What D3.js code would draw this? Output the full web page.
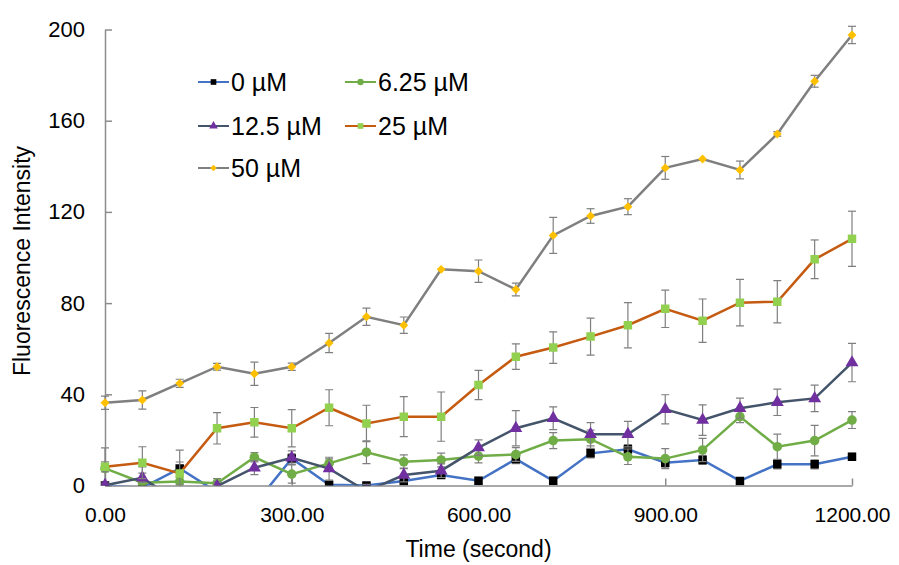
<!DOCTYPE html>
<html>
<head>
<meta charset="utf-8">
<script src="https://cdn.jsdelivr.net/npm/d3@7"></script>
<style>
  body { margin: 0; background: #fff; }
  svg text { font-family: "Liberation Sans", Arial, Helvetica, sans-serif; fill: #000; }
</style>
</head>
<body>
<svg id="chart" width="899" height="565"></svg>
<script>
// time points (seconds)
const times = [0, 60, 120, 180, 240, 300, 360, 420, 480, 540, 600, 660, 720, 780, 840, 900, 960, 1020, 1080, 1140, 1200]

// mean fluorescence per concentration
const v0 = [0, -1, 7.5, -2.9, -8.5, 11.9, 0.3, 0, 2.0, 4.6, 2.1, 11.6, 2.1, 14.1, 15.9, 10.0, 11.2, 2.0, 9.3, 9.3, 12.6]
const v625 = [7.5, 1.2, 1.7, 1.0, 12.4, 5.0, 9.7, 14.6, 10.4, 11.2, 12.9, 13.6, 19.7, 20.3, 12.6, 11.8, 15.6, 30.2, 17.0, 19.7, 28.7]
const v125 = [0.1, 3.4, -7.6, -0.3, 7.8, 12.2, 7.4, -2.5, 4.6, 6.5, 16.6, 25.1, 29.5, 22.5, 22.5, 33.4, 28.7, 33.9, 36.5, 38.2, 53.9]
const v25 = [8.2, 10.0, 5.3, 25.1, 27.7, 25.1, 34.1, 27.2, 30.2, 30.2, 44.1, 56.5, 60.5, 65.3, 70.3, 77.5, 72.3, 80.2, 80.6, 99.2, 108.2]
const v50 = [36.3, 37.5, 44.8, 52.1, 49.0, 52.1, 62.5, 74.0, 70.3, 94.8, 94.0, 86.0, 109.7, 118.2, 122.3, 139.3, 143.2, 138.4, 154.2, 177.3, 197.6]

// error bar half widths
const e0 = [1, 1, 8, 2, 2, 2, 1, 1, 1.5, 1.5, 1.5, 2, 1.5, 2, 2, 2, 2, 1.5, 2, 2, 1.5]
const e625 = [9, 7, 2, 2, 2, 4, 2, 5, 3, 3, 3, 3, 3.5, 4, 3.4, 4.4, 5.1, 2.6, 5.5, 6.7, 3.7]
const e125 = [1, 2, 2, 2, 3, 3, 5, 3, 3, 3, 3.4, 7.7, 5.0, 5.1, 5.6, 6.4, 6.7, 4.4, 5.8, 5.8, 8.4]
const e25 = [2.2, 7.0, 5, 6.9, 6.5, 8.2, 7.9, 8, 8.8, 10.8, 6.4, 5.6, 6.9, 8.1, 9.9, 8.2, 9.5, 10.2, 9.3, 8.5, 12.1]
const e50 = [2.9, 4.0, 1.8, 1.5, 5.1, 1.6, 4.2, 3.8, 3.6, 0.5, 4.9, 2.8, 7.9, 3.2, 3.5, 5.0, 0.5, 3.9, 1, 2.6, 3.8]

const seriesNames = ['0 µM', '6.25 µM', '12.5 µM', '25 µM', '50 µM']
const lineColors = ['#4472C4', '#70AD47', '#44546A', '#C55A11', '#7F7F7F']
const markerColors = ['#000000', '#70AD47', '#7030A0', '#92D050', '#FFC000']
const markerShapes = ['square', 'circle', 'triangle', 'square', 'diamond']

const xTicks = [0, 300, 600, 900, 1200]
const yTicks = [0, 40, 80, 120, 160, 200]

const means = [v0, v625, v125, v25, v50]
const errs = [e0, e625, e125, e25, e50]

const series = seriesNames.map((name, i) => ({
  name,
  line: lineColors[i],
  marker: markerColors[i],
  shape: markerShapes[i],
  values: times.map((t, j) => ({ t, v: means[i][j], e: errs[i][j] }))
}))

// diamond = square turned 45 degrees
function markerPath(shape, size) {
  const type = { square: d3.symbolSquare, circle: d3.symbolCircle, triangle: d3.symbolTriangle, diamond: d3.symbolSquare }[shape]
  return d3.symbol().type(type).size(size)()
}
const rot = shape => shape === 'diamond' ? ' rotate(45)' : ''

const svg = d3.select('#chart')

const x = d3.scaleLinear().domain([0, 1200]).range([105, 852])
const y = d3.scaleLinear().domain([0, 200]).range([485.5, 29.5])

svg.append('defs').append('clipPath')
  .attr('id', 'plot')
  .append('rect')
  .attr('x', 95).attr('y', 0)
  .attr('width', 800).attr('height', y(0))

// axes
const xAxis = svg.append('g')
  .attr('transform', `translate(0,${y(0)})`)
  .call(d3.axisBottom(x).tickValues(xTicks).tickSizeInner(-7).tickSizeOuter(0).tickFormat(d3.format('.2f')))
const yAxis = svg.append('g')
  .attr('transform', `translate(${x(0)},0)`)
  .call(d3.axisLeft(y).tickValues(yTicks).tickSizeInner(-7).tickSizeOuter(0).tickFormat(d3.format('d')))

xAxis.selectAll('path, line').attr('stroke', '#8C8C8C').attr('stroke-width', 1.5)
yAxis.selectAll('path, line').attr('stroke', '#8C8C8C').attr('stroke-width', 1.5)
xAxis.selectAll('text').attr('y', 22).attr('dy', '0.71em').style('font-size', '21px')
yAxis.selectAll('text').attr('x', -20).style('font-size', '22px')

svg.append('text')
  .attr('x', (x(0) + x(1200)) / 2).attr('y', 557)
  .attr('text-anchor', 'middle')
  .style('font-size', '23px')
  .text('Time (second)')

svg.append('text')
  .attr('transform', `translate(30,${261}) rotate(-90)`)
  .attr('text-anchor', 'middle')
  .style('font-size', '23px')
  .text('Fluorescence Intensity')

const plot = svg.append('g').attr('clip-path', 'url(#plot)')

const line = d3.line().x(d => x(d.t)).y(d => y(d.v))

series.forEach(s => {
  const g = plot.append('g')

  const bars = g.append('g').attr('stroke', '#7F7F7F').attr('stroke-width', 1.2)
  s.values.forEach(d => {
    if (d.e < 0.8) return
    const cx = x(d.t)
    bars.append('line').attr('x1', cx).attr('x2', cx).attr('y1', y(d.v - d.e)).attr('y2', y(d.v + d.e))
    bars.append('line').attr('x1', cx - 4).attr('x2', cx + 4).attr('y1', y(d.v - d.e)).attr('y2', y(d.v - d.e))
    bars.append('line').attr('x1', cx - 4).attr('x2', cx + 4).attr('y1', y(d.v + d.e)).attr('y2', y(d.v + d.e))
  })

  g.append('path')
    .datum(s.values)
    .attr('fill', 'none')
    .attr('stroke', s.line)
    .attr('stroke-width', 2.5)
    .attr('d', line)

  g.selectAll('.mark')
    .data(s.values)
    .enter().append('path')
    .attr('transform', d => `translate(${x(d.t)},${y(d.v)})` + rot(s.shape))
    .attr('d', markerPath(s.shape, s.shape === 'diamond' ? 40 : 72))
    .attr('fill', s.marker)
})

// legend
const legendPos = [[198, 82], [345, 82], [198, 126], [345, 126], [198, 168]]
series.forEach((s, i) => {
  const [lx, ly] = legendPos[i]
  const g = svg.append('g').attr('transform', `translate(${lx},${ly})`)
  g.append('line').attr('x1', 0).attr('x2', 31).attr('stroke', s.line).attr('stroke-width', 2)
  g.append('path')
    .attr('transform', 'translate(15.5,0)' + rot(s.shape))
    .attr('d', markerPath(s.shape, s.shape === 'diamond' ? 22 : 32))
    .attr('fill', s.marker)
  g.append('text')
    .attr('x', 33).attr('dy', '0.36em')
    .style('font-size', '25px')
    .text(s.name)
})
</script>
</body>
</html>
